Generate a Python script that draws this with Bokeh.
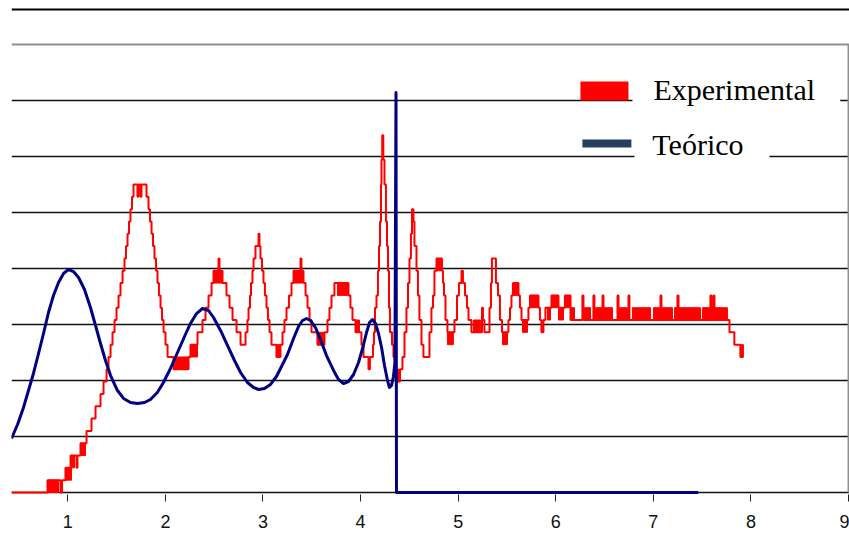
from bokeh.plotting import figure
from bokeh.models import Range1d, FixedTicker, Span, BoxAnnotation, Label
from bokeh.embed import file_html
from bokeh.resources import INLINE

# ---- data ----
x_ticks = [1, 2, 3, 4, 5, 6, 7, 8, 9]
grid_levels = [0, 1, 2, 3, 4, 5, 6, 7]

# Teórico (smooth curve, then a jump and a flat zero tail)
teo_x = [0.423, 0.485, 0.546, 0.597, 0.648, 0.700, 0.751, 0.802, 0.853, 0.905,
         0.956, 1.007, 1.058, 1.110, 1.171, 1.232, 1.284, 1.335, 1.386, 1.438,
         1.509, 1.571, 1.643, 1.714, 1.786, 1.847, 1.917, 1.980, 2.052, 2.124,
         2.196, 2.257, 2.319, 2.380, 2.442, 2.493, 2.565, 2.636, 2.708, 2.770,
         2.841, 2.903, 2.954, 3.015, 3.077, 3.138, 3.200, 3.251, 3.313, 3.364,
         3.405, 3.446, 3.487, 3.538, 3.589, 3.651, 3.723, 3.774, 3.825, 3.876,
         3.928, 3.979, 4.020, 4.061, 4.092, 4.122, 4.153, 4.184, 4.215, 4.245,
         4.276, 4.296, 4.317, 4.337, 4.352, 4.363, 4.368, 7.460]
teo_y = [0.964, 1.214, 1.518, 1.821, 2.125, 2.482, 2.839, 3.214, 3.518, 3.750,
         3.911, 3.982, 3.946, 3.839, 3.625, 3.304, 2.982, 2.661, 2.357, 2.089,
         1.821, 1.679, 1.607, 1.589, 1.607, 1.661, 1.786, 1.964, 2.214, 2.500,
         2.786, 3.018, 3.196, 3.286, 3.250, 3.125, 2.893, 2.625, 2.357, 2.143,
         1.964, 1.875, 1.839, 1.857, 1.929, 2.071, 2.286, 2.464, 2.750, 2.964,
         3.071, 3.107, 3.071, 2.946, 2.732, 2.446, 2.179, 2.018, 1.946, 1.982,
         2.107, 2.321, 2.571, 2.857, 3.036, 3.089, 3.018, 2.839, 2.589, 2.268,
         2.000, 1.875, 1.911, 2.071, 2.321, 7.143, 0.000, 0.000]

# Experimental (quantised step signal)
exp_x = [0.423, 0.792, 0.925, 0.941, 0.976, 1.028, 1.089, 1.099, 1.130, 1.192,
         1.243, 1.284, 1.335, 1.366, 1.397, 1.417, 1.438, 1.458, 1.479, 1.499,
         1.520, 1.540, 1.561, 1.581, 1.596, 1.612, 1.627, 1.642, 1.658, 1.673,
         1.714, 1.724, 1.745, 1.755, 1.806, 1.827, 1.842, 1.858, 1.873, 1.888,
         1.904, 1.919, 1.934, 1.950, 1.965, 1.981, 2.001, 2.022, 2.083, 2.237,
         2.257, 2.329, 2.380, 2.411, 2.442, 2.473, 2.493, 2.544, 2.554, 2.585,
         2.626, 2.657, 2.688, 2.729, 2.770, 2.821, 2.841, 2.852, 2.867, 2.877,
         2.892, 2.903, 2.923, 2.954, 2.964, 2.974, 2.990, 3.005, 3.020, 3.036,
         3.051, 3.067, 3.087, 3.138, 3.179, 3.200, 3.220, 3.241, 3.266, 3.292,
         3.313, 3.384, 3.394, 3.415, 3.436, 3.456, 3.477, 3.497, 3.558, 3.630,
         3.661, 3.681, 3.702, 3.732, 3.876, 3.896, 3.917, 3.948, 4.009, 4.030,
         4.081, 4.096, 4.127, 4.137, 4.148, 4.163, 4.178, 4.189, 4.199, 4.209,
         4.214, 4.222, 4.233, 4.245, 4.260, 4.271, 4.281, 4.291, 4.301, 4.322,
         4.337, 4.352, 4.368, 4.404, 4.429, 4.450, 4.470, 4.486, 4.501, 4.516,
         4.527, 4.542, 4.552, 4.573, 4.588, 4.603, 4.624, 4.644, 4.706, 4.726,
         4.742, 4.757, 4.778, 4.834, 4.844, 4.855, 4.870, 4.890, 4.962, 4.988,
         5.008, 5.034, 5.049, 5.070, 5.090, 5.106, 5.136, 5.244, 5.254, 5.269,
         5.321, 5.336, 5.346, 5.387, 5.408, 5.428, 5.449, 5.515, 5.531, 5.546,
         5.561, 5.618, 5.633, 5.649, 5.720, 5.736, 5.823, 5.838, 5.853, 5.874,
         5.894, 5.956, 6.028, 6.094, 6.151, 6.273, 6.284, 6.386, 6.396, 6.479,
         6.489, 6.633, 6.643, 6.745, 6.755, 7.073, 7.083, 7.247, 7.258, 7.585,
         7.595, 7.616, 7.626, 7.780, 7.830, 7.892, 7.923]
exp_y = [0.00, 0.22, 0.00, 0.22, 0.44, 0.66, 0.44, 0.66, 0.88, 1.10,
         1.32, 1.54, 1.76, 1.98, 2.20, 2.42, 2.64, 2.86, 3.08, 3.30,
         3.52, 3.74, 3.96, 4.18, 4.40, 4.62, 4.84, 5.06, 5.28, 5.50,
         5.28, 5.50, 5.28, 5.50, 5.28, 5.06, 4.84, 4.62, 4.40, 4.18,
         3.96, 3.74, 3.52, 3.30, 3.08, 2.86, 2.64, 2.42, 2.20, 2.42,
         2.64, 2.86, 3.08, 3.30, 3.52, 3.74, 3.96, 4.18, 3.96, 3.74,
         3.52, 3.30, 3.08, 2.86, 2.64, 2.86, 3.08, 3.30, 3.52, 3.74,
         3.96, 4.18, 4.40, 4.62, 4.40, 4.18, 3.96, 3.74, 3.52, 3.30,
         3.08, 2.86, 2.64, 2.42, 2.64, 2.86, 3.08, 3.30, 3.52, 3.74,
         3.96, 4.18, 3.96, 3.74, 3.52, 3.30, 3.08, 2.86, 2.64, 2.86,
         3.08, 3.30, 3.52, 3.74, 3.52, 3.30, 3.08, 2.86, 2.64, 2.42,
         2.20, 2.42, 2.64, 2.86, 3.30, 3.52, 3.96, 4.40, 4.84, 5.50,
         5.94, 6.38, 5.94, 5.50, 4.84, 4.40, 3.96, 3.30, 2.86, 2.64,
         2.42, 2.20, 1.98, 2.20, 2.42, 2.86, 3.30, 3.74, 4.18, 4.62,
         5.06, 4.84, 4.40, 3.96, 3.52, 3.08, 2.64, 2.42, 2.86, 3.30,
         3.52, 3.96, 4.18, 3.96, 3.74, 3.52, 3.08, 2.86, 3.08, 3.52,
         3.74, 3.96, 3.74, 3.52, 3.30, 3.08, 2.86, 3.30, 3.08, 2.86,
         3.30, 3.74, 4.18, 3.74, 3.52, 3.08, 2.86, 3.08, 3.30, 3.52,
         3.74, 3.52, 3.30, 3.08, 3.30, 3.52, 3.30, 3.08, 2.86, 3.08,
         3.30, 3.52, 3.30, 3.52, 3.08, 3.52, 3.08, 3.52, 3.08, 3.52,
         3.08, 3.52, 3.08, 3.52, 3.08, 3.52, 3.08, 3.52, 3.08, 3.52,
         3.08, 3.52, 3.08, 2.86, 2.64, 2.42, 2.42]

# stretches where the experimental signal flickers between two adjacent levels
flick_x0 = [0.792, 0.976, 1.028, 1.130, 2.083, 2.257, 2.493, 3.138, 3.313, 3.558,
            3.763, 3.948, 4.358, 4.778, 4.890, 5.156, 5.454, 5.567, 5.659, 5.741,
            5.915, 5.966, 6.028, 6.100, 6.151, 6.294, 6.407, 6.653, 6.786, 7.002,
            7.217, 7.503, 7.892]
flick_x1 = [0.905, 1.038, 1.069, 1.181, 2.237, 2.329, 2.585, 3.179, 3.405, 3.620,
            3.866, 3.989, 4.399, 4.829, 4.951, 5.228, 5.505, 5.608, 5.710, 5.813,
            5.946, 6.018, 6.079, 6.151, 6.192, 6.356, 6.581, 6.735, 6.971, 7.196,
            7.483, 7.759, 7.923]
flick_lo = [0.00, 0.22, 0.44, 0.66, 2.20, 2.42, 3.74, 2.42, 3.74, 2.64,
            3.52, 2.86, 1.98, 3.96, 2.64, 2.86, 2.64, 3.52, 2.86, 3.30,
            3.08, 3.30, 3.08, 3.30, 3.08, 3.08, 3.08, 3.08, 3.08, 3.08,
            3.08, 3.08, 2.42]
flick_hi = [0.22, 0.44, 0.66, 0.88, 2.42, 2.64, 3.96, 2.64, 3.96, 2.86,
            3.74, 3.08, 2.20, 4.18, 2.86, 3.08, 2.86, 3.74, 3.08, 3.52,
            3.30, 3.52, 3.30, 3.52, 3.30, 3.30, 3.30, 3.30, 3.30, 3.30,
            3.30, 3.30, 2.64]

series_names = ["Experimental", "Teórico"]

# ---- figure ----
p = figure(width=849, height=539, output_backend="svg", toolbar_location=None,
           x_range=Range1d(0.423, 9.01), y_range=Range1d(-0.036, 8.661),
           min_border_left=11, min_border_right=0, min_border_top=7,
           min_border_bottom=45, y_axis_location=None)
p.outline_line_color = None
p.background_fill_color = "white"
p.border_fill_color = "white"

p.xgrid.visible = False
p.ygrid.ticker = FixedTicker(ticks=grid_levels)
p.ygrid.grid_line_color = "#111111"
p.ygrid.grid_line_width = 1.7

ax = p.xaxis[0]
ax.ticker = FixedTicker(ticks=x_ticks)
ax.axis_line_color = None
ax.major_tick_out = 7
ax.major_tick_in = 0
ax.minor_tick_out = 0
ax.major_tick_line_color = "#222222"
ax.major_tick_line_width = 1
ax.major_label_text_font = "Liberation Sans"
ax.major_label_text_font_size = "18px"
ax.major_label_text_color = "#111111"
ax.major_label_standoff = 13

# frame decorations: outer top rule, grey plot-area border
p.add_layout(Span(location=8.625, dimension="width", line_color="black", line_width=2))
p.add_layout(Span(location=8.0, dimension="width", line_color="#8f8f8f", line_width=2))
p.segment(x0=[9.0], y0=[0.0], x1=[9.0], y1=[8.0], line_color="#8f8f8f", line_width=2)

# data
p.quad(left=flick_x0, right=flick_x1, bottom=flick_lo, top=flick_hi,
       fill_color="#ff0000", line_color="#ff0000", line_width=1)
p.step(exp_x, exp_y, mode="after", line_color="#ff0000", line_width=2)
p.line(teo_x, teo_y, line_color="#000080", line_width=3, line_join="round")

# legend (Excel style: symbols + text on white boxes)
p.add_layout(BoxAnnotation(left=6.786, right=8.915, bottom=6.893, top=7.143,
                           fill_color="white", fill_alpha=1, line_color=None))
p.add_layout(BoxAnnotation(left=6.806, right=8.19, bottom=5.893, top=6.125,
                           fill_color="white", fill_alpha=1, line_color=None))
p.add_layout(BoxAnnotation(left=6.253, right=6.745, bottom=7.0, top=7.339,
                           fill_color="#ff0000", fill_alpha=1, line_color=None))
p.add_layout(BoxAnnotation(left=6.273, right=6.775, bottom=6.161, top=6.304,
                           fill_color="#28405f", fill_alpha=1, line_color=None))
p.add_layout(Label(x=7.001, y=7.19, text=series_names[0], text_font="Liberation Serif",
                   text_font_size="30px", text_color="black", text_baseline="alphabetic"))
p.add_layout(Label(x=6.99, y=6.21, text=series_names[1], text_font="Liberation Serif",
                   text_font_size="30px", text_color="black", text_baseline="alphabetic"))

open("out.html", "w").write(file_html(p, INLINE))
